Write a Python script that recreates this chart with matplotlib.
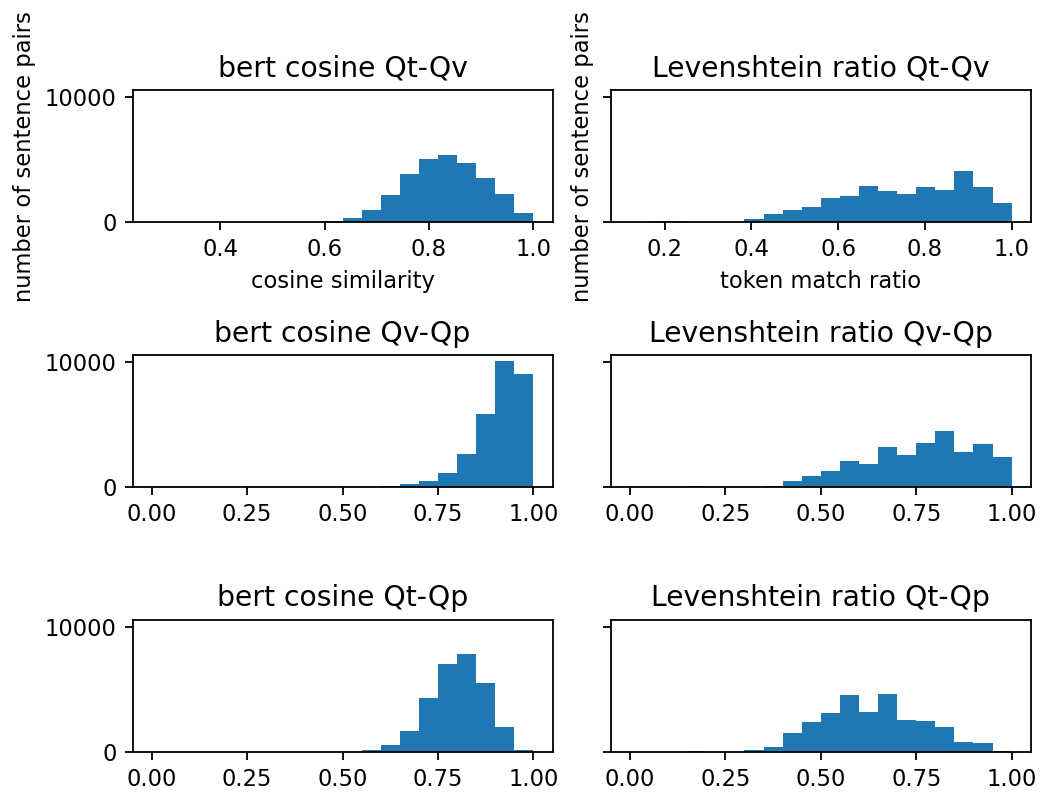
import numpy as np
import matplotlib
matplotlib.use("Agg")
import matplotlib.pyplot as plt

# Histogram counts per bin (20 bins each)
titles = [
    "bert cosine Qt-Qv", "Levenshtein ratio Qt-Qv",
    "bert cosine Qv-Qp", "Levenshtein ratio Qv-Qp",
    "bert cosine Qt-Qp", "Levenshtein ratio Qt-Qp",
]

bert_qt_qv_range = (0.269, 1.0)
bert_qt_qv = [0, 0, 0, 0, 0, 0, 0, 0, 0, 130,
              340, 950, 2180, 3820, 5050, 5370, 4760, 3530, 2260, 740]

lev_qt_qv_range = (0.12, 1.0)
lev_qt_qv = [0, 100, 70, 0, 0, 50, 240, 660, 950, 1210,
             1970, 2080, 2870, 2450, 2290, 2840, 2600, 4100, 2820, 1550]

bert_qv_qp_range = (0.0, 1.0)
bert_qv_qp = [0, 0, 0, 0, 0, 0, 0, 0, 0, 0,
              0, 0, 80, 240, 450, 1150, 2640, 5840, 10030, 9010]

lev_qv_qp_range = (0.0, 1.0)
lev_qv_qp = [0, 0, 0, 50, 0, 0, 0, 80, 450, 850,
             1310, 2110, 1810, 3170, 2560, 3490, 4480, 2800, 3410, 2400]

bert_qt_qp_range = (0.0, 1.0)
bert_qt_qp = [0, 0, 0, 0, 0, 0, 0, 0, 0, 0,
              0, 130, 530, 1710, 4320, 7040, 7790, 5520, 2030, 130]

lev_qt_qp_range = (0.0, 1.0)
lev_qt_qp = [0, 0, 0, 50, 0, 0, 130, 400, 1520, 2430,
             3090, 4510, 3200, 4640, 2530, 2480, 2000, 830, 720, 80]

series = [
    (bert_qt_qv_range, bert_qt_qv), (lev_qt_qv_range, lev_qt_qv),
    (bert_qv_qp_range, bert_qv_qp), (lev_qv_qp_range, lev_qv_qp),
    (bert_qt_qp_range, bert_qt_qp), (lev_qt_qp_range, lev_qt_qp),
]

unit_ticks = [0.0, 0.25, 0.5, 0.75, 1.0]

DPI = 163
fig, axes = plt.subplots(3, 2, sharey=True, figsize=(1043 / DPI, 796 / DPI), dpi=DPI)
fig.subplots_adjust(left=0.1272, right=0.9882, top=0.8866, bottom=0.0553,
                    wspace=0.139, hspace=1.008)

for ax, title, (rng, counts) in zip(axes.flat, titles, series):
    edges = np.linspace(rng[0], rng[1], len(counts) + 1)
    centers = 0.5 * (edges[:-1] + edges[1:])
    ax.hist(centers, bins=edges, weights=counts, color="#1f77b4")
    ax.set_title(title, fontsize=12.5)
    ax.set_yticks([0, 10000])

for ax in axes[1:].flat:
    ax.set_xticks(unit_ticks)

axes[0, 0].set_xlabel("cosine similarity")
axes[0, 1].set_xlabel("token match ratio")
axes[0, 0].set_ylabel("number of sentence pairs")
axes[0, 1].set_ylabel("number of sentence pairs")

fig.savefig("out.png", dpi=DPI)
